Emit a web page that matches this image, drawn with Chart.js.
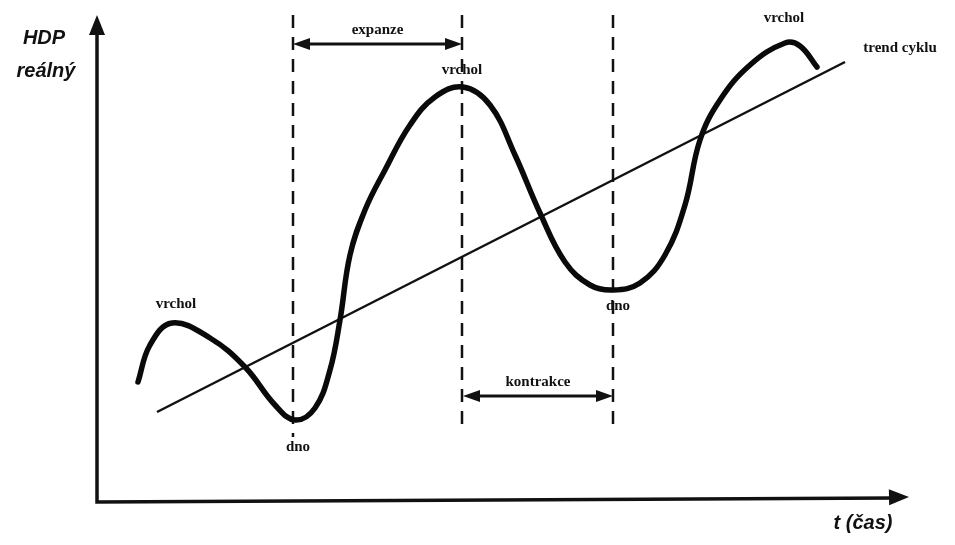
<!DOCTYPE html>
<html>
<head>
<meta charset="utf-8">
<script src="https://cdn.jsdelivr.net/npm/chart.js@4.4.1/dist/chart.umd.min.js"></script>
<style>
  html, body { margin: 0; padding: 0; background: #fff; }
  #wrap { width: 955px; height: 545px; position: relative; }
</style>
</head>
<body>
<div id="wrap"><canvas id="cycleCanvas"></canvas></div>
<script>
const cycleX = [138, 150, 172, 210, 245, 275, 295, 315, 330, 340, 350, 365, 385, 410, 435, 463, 490, 515, 540, 565, 590, 613, 640, 665, 685, 700, 720, 750, 785, 800, 817];
const cycleY = [382, 345, 323, 338, 367, 405, 420, 408, 370, 320, 255, 210, 170, 125, 97, 87, 105, 155, 213, 262, 285, 290, 283, 255, 205, 140, 100, 65, 43, 46, 67];

// trend line of the cycle
const trendX = [157, 845];
const trendY = [412, 62];

// dashed lines at trough / peak / trough
const phaseX = [293, 462, 613];
const phaseTop = [15, 15, 15];
const phaseBottom = [437, 430, 430];

// phase arrows: expanze, kontrakce
const phaseNames = ["expanze", "kontrakce"];
const phaseFrom = [293, 463];
const phaseTo = [462, 613];
const phaseLevel = [44, 396];

const toPoints = (xs, ys) => xs.map((x, i) => ({ x: x, y: ys[i] }));

const serif = "bold 15px 'Liberation Serif', 'DejaVu Serif', serif";
const sans = "italic bold 20px 'Liberation Sans', Arial, sans-serif";

// axes, arrows and texts drawn on top of the chart area
const diagramPlugin = {
  id: "diagram",
  afterDatasetsDraw(chart) {
    const ctx = chart.ctx;
    const sx = chart.scales.x;
    const sy = chart.scales.y;
    const px = (v) => sx.getPixelForValue(v);
    const py = (v) => sy.getPixelForValue(v);

    const head = (x1, y1, x2, y2, len, half) => {
      const a = Math.atan2(y2 - y1, x2 - x1);
      ctx.beginPath();
      ctx.moveTo(x2, y2);
      ctx.lineTo(x2 - len * Math.cos(a) + half * Math.sin(a), y2 - len * Math.sin(a) - half * Math.cos(a));
      ctx.lineTo(x2 - len * Math.cos(a) - half * Math.sin(a), y2 - len * Math.sin(a) + half * Math.cos(a));
      ctx.closePath();
      ctx.fill();
    };

    ctx.save();
    ctx.strokeStyle = "#111";
    ctx.fillStyle = "#111";
    ctx.lineCap = "butt";

    // axes
    ctx.lineWidth = 3.5;
    ctx.beginPath();
    ctx.moveTo(px(97), py(30));
    ctx.lineTo(px(97), py(502));
    ctx.lineTo(px(893), py(498));
    ctx.stroke();
    head(px(97), py(60), px(97), py(15), 20, 8);
    head(px(850), py(498), px(909), py(497), 20, 8);

    // phase arrows
    ctx.lineWidth = 3;
    phaseNames.forEach((name, i) => {
      const y = py(phaseLevel[i]);
      const a = px(phaseFrom[i]);
      const b = px(phaseTo[i]);
      ctx.beginPath();
      ctx.moveTo(a + 10, y);
      ctx.lineTo(b - 10, y);
      ctx.stroke();
      head(b, y, a, y, 17, 6);
      head(a, y, b, y, 17, 6);
      ctx.font = serif;
      ctx.textAlign = "center";
      ctx.textBaseline = "alphabetic";
      ctx.fillText(name, (a + b) / 2, y - 10);
    });

    // point labels
    ctx.font = serif;
    ctx.textAlign = "center";
    ctx.textBaseline = "middle";
    ctx.fillText("vrchol", px(176), py(304));
    ctx.fillText("dno", px(298), py(447));
    ctx.fillText("vrchol", px(462), py(70));
    ctx.fillText("dno", px(618), py(306));
    ctx.fillText("vrchol", px(784), py(18));
    ctx.fillText("trend cyklu", px(900), py(48));

    // axis titles
    ctx.font = sans;
    ctx.fillText("HDP", px(44), py(38));
    ctx.fillText("reálný", px(46), py(71));
    ctx.fillText("t (čas)", px(863), py(523));
    ctx.restore();
  },
};

const dashed = phaseX.map((x, i) => ({
  data: [{ x: x, y: phaseTop[i] }, { x: x, y: phaseBottom[i] }],
  borderColor: "#111",
  borderWidth: 2.5,
  borderDash: [13, 9],
  pointRadius: 0,
}));

new Chart(document.getElementById("cycleCanvas"), {
  type: "line",
  data: {
    datasets: [
      {
        data: toPoints(cycleX, cycleY),
        borderColor: "#0a0a0a",
        borderWidth: 5.5,
        tension: 0.4,
        pointRadius: 0,
        borderCapStyle: "round",
      },
      {
        data: toPoints(trendX, trendY),
        borderColor: "#111",
        borderWidth: 2.5,
        pointRadius: 0,
      },
      ...dashed,
    ],
  },
  options: {
    responsive: true,
    maintainAspectRatio: false,
    animation: false,
    layout: { padding: 0 },
    plugins: { legend: { display: false }, tooltip: { enabled: false } },
    scales: {
      x: { type: "linear", min: 0, max: 955, display: false },
      y: { type: "linear", min: 0, max: 545, reverse: true, display: false },
    },
  },
  plugins: [diagramPlugin],
});
</script>
</body>
</html>
